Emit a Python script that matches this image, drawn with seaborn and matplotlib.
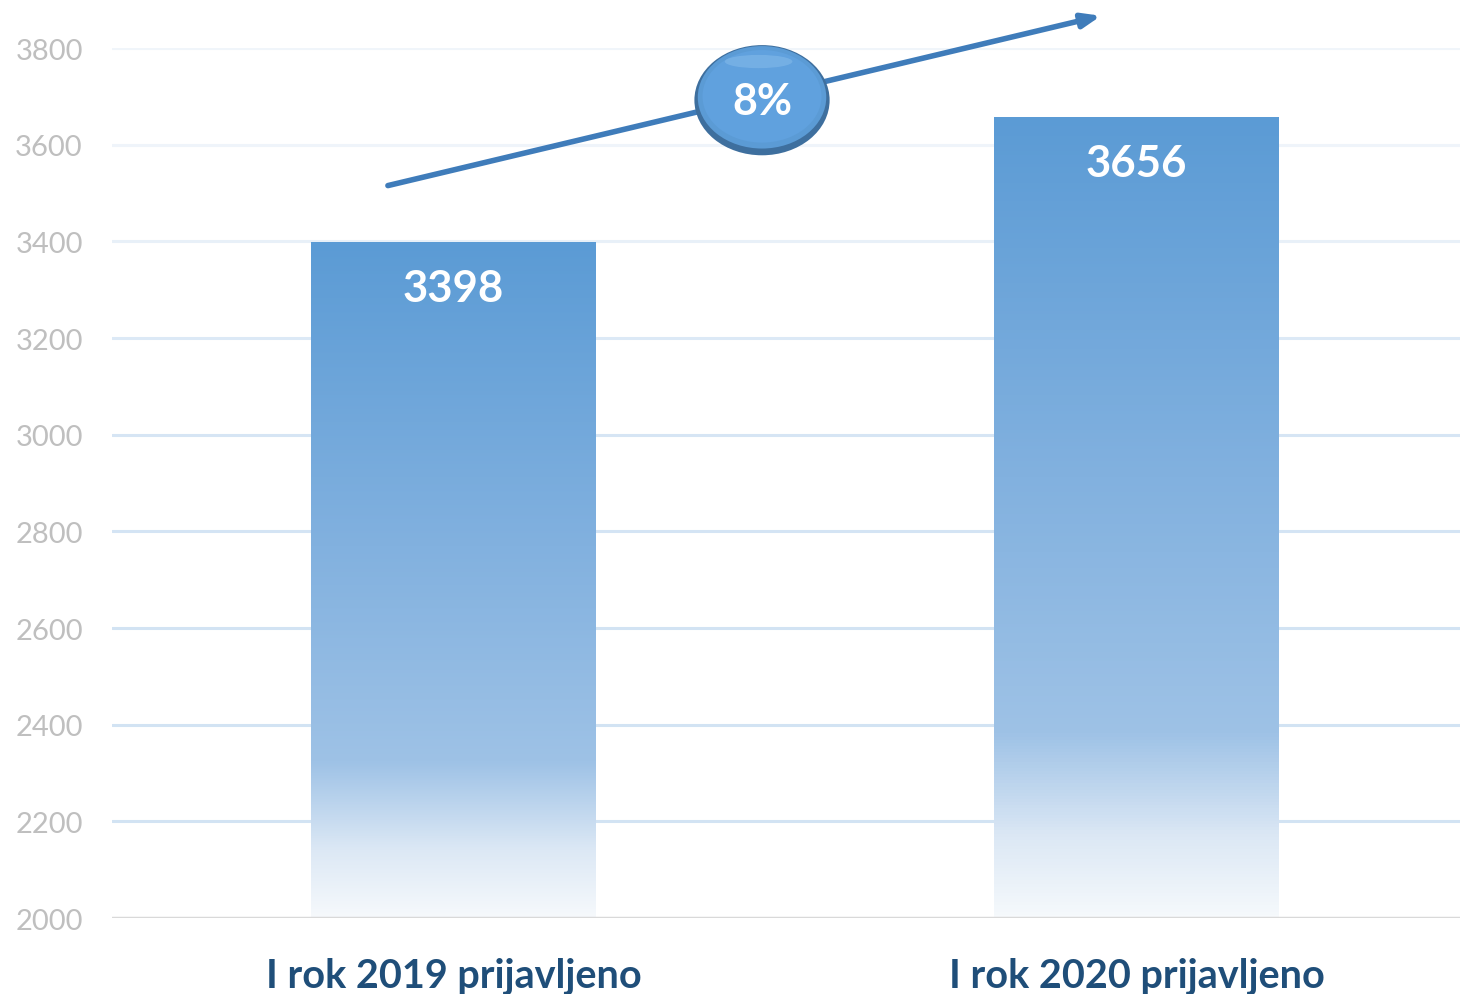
import matplotlib
matplotlib.use("Agg")
import matplotlib.pyplot as plt
import numpy as np
import pandas as pd
import seaborn as sns
from matplotlib.colors import LinearSegmentedColormap
from matplotlib.patches import Ellipse

# ------------------------------------------------------------
# Data
# ------------------------------------------------------------
categories = ["I rok 2019 prijavljeno", "I rok 2020 prijavljeno"]
values = [3398, 3656]
y_ticks = [2000, 2200, 2400, 2600, 2800, 3000, 3200, 3400, 3600, 3800]

growth = (values[1] - values[0]) / values[0] * 100
growth_label = f"{round(growth):.0f}%"

df = pd.DataFrame({"kategorija": categories, "broj": values})

# ------------------------------------------------------------
# Style
# ------------------------------------------------------------
sns.set_theme(style="white")
plt.rcParams["font.family"] = ["Lato", "DejaVu Sans"]

BAR_TOP = "#5B9BD5"
TEXT_DARK = "#1F4E79"

fig = plt.figure(figsize=(14.6, 9.95), dpi=100)
ax = fig.add_axes([112 / 1460, 76 / 995, 1366 / 1460, 870 / 995])

bar_w = 285 / 683
sns.barplot(data=df, x="kategorija", y="broj", color=BAR_TOP, width=bar_w,
            ax=ax, zorder=3)

ax.set_ylim(2000, 3800)
ax.set_xlim(-0.5, 1.5)
ax.set_yticks(y_ticks)
ax.set_yticklabels([str(t) for t in y_ticks], color="#BFBFBF", fontsize=21)
ax.tick_params(axis="y", length=0, pad=21)
ax.tick_params(axis="x", length=0, pad=28)
for lab in ax.get_xticklabels():
    lab.set_fontsize(28.5)
    lab.set_fontweight("bold")
    lab.set_color(TEXT_DARK)
ax.set_xlabel("")
ax.set_ylabel("")

# grid lines get fainter towards the top
grid_cols = ["#D2E3F3", "#D2E3F3", "#D2E3F3", "#D4E4F4", "#D6E5F4",
             "#DCE9F6", "#E8F0F8", "#EFF4FA", "#F0F5FA"]
for t, c in zip(y_ticks[1:], grid_cols):
    ax.axhline(t, color=c, lw=2.2, zorder=1)
ax.axhline(2000, color="#D9D9D9", lw=2.5, zorder=4)
for s in ax.spines.values():
    s.set_visible(False)

# gradient fill for the bars (white at the bottom, blue at the top)
cmap = LinearSegmentedColormap.from_list(
    "fade",
    [(0.0, "#F6F9FC"), (0.10, "#DCE8F5"), (0.23, "#9EC2E6"),
     (0.55, "#82B1DF"), (1.0, BAR_TOP)],
)
grad = np.linspace(0, 1, 256).reshape(-1, 1)
for patch, v in zip(ax.patches, values):
    x0 = patch.get_x()
    w = patch.get_width()
    patch.set_alpha(0)
    ax.imshow(grad, extent=[x0, x0 + w, 2000, v], origin="lower",
              cmap=cmap, aspect="auto", zorder=3)
    ax.text(x0 + w / 2, v - 94, f"{v}", ha="center", va="center",
            color="white", fontsize=31.5, fontweight="bold", zorder=5)

ax.set_xlim(-0.5, 1.5)
ax.set_ylim(2000, 3800)

# growth arrow
ax.annotate("", xy=(0.952, 3868), xytext=(-0.1, 3514),
            arrowprops=dict(arrowstyle="-|>,head_length=0.9,head_width=0.35",
                            color="#3F7CBA", lw=4),
            annotation_clip=False, zorder=6)

# badge with percentage
cx, cy = 0.4517, 3692
ew, eh = 0.198, 228
ax.add_patch(Ellipse((cx, cy), ew, eh, facecolor="#3E6F9E", edgecolor="none",
                     clip_on=False, zorder=7))
ax.add_patch(Ellipse((cx, cy + 6), ew * 0.95, eh * 0.93, facecolor="#5B9BD5",
                     edgecolor="none", clip_on=False, zorder=8))
ax.add_patch(Ellipse((cx, cy + 8), ew * 0.88, eh * 0.84, facecolor="#60A1DE",
                     edgecolor="none", clip_on=False, zorder=9))
ax.add_patch(Ellipse((cx - 0.005, cy + 80), ew * 0.5, eh * 0.12,
                     facecolor="#9CCBF2", edgecolor="none", alpha=0.35,
                     clip_on=False, zorder=10))
ax.text(cx, cy - 2, growth_label, ha="center", va="center", color="white",
        fontsize=31, fontweight="bold", zorder=11)

fig.savefig("out.png", dpi=100, facecolor="white")
